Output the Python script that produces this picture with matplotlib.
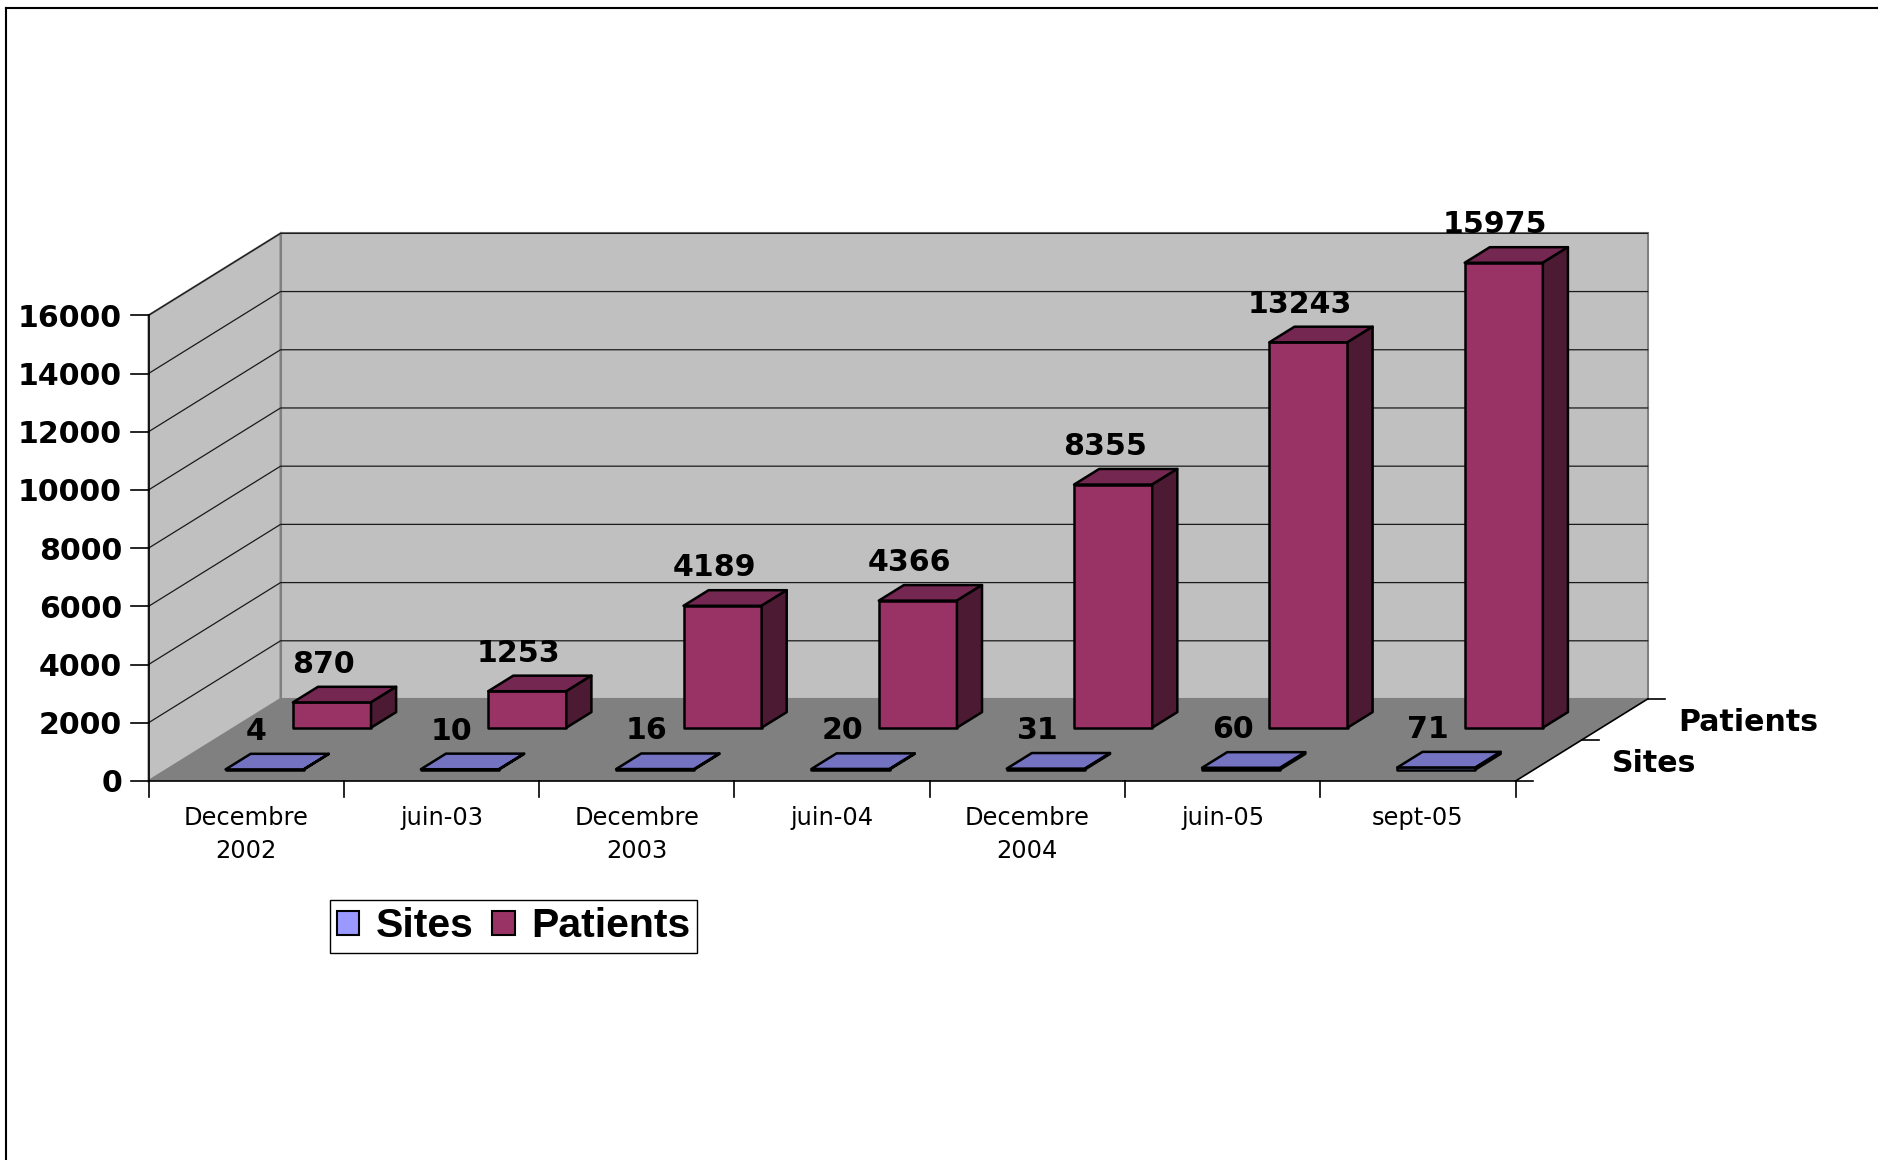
import matplotlib
matplotlib.use("Agg")
import matplotlib.pyplot as plt
from matplotlib.patches import Polygon, Patch
from matplotlib.lines import Line2D

# data
categories = ["Decembre\n2002", "juin-03", "Decembre\n2003", "juin-04",
              "Decembre\n2004", "juin-05", "sept-05"]
series_names = ["Sites", "Patients"]
sites = [4, 10, 16, 20, 31, 60, 71]
patients = [870, 1253, 4189, 4366, 8355, 13243, 15975]
yticks = list(range(0, 16001, 2000))

# colours (front, top, side)
sites_cols = ("#9999FF", "#7373C2", "#4D4D80")
patients_cols = ("#993366", "#742750", "#4D1A33")
wall_col = "#C0C0C0"
floor_col = "#808080"

# oblique projection: depth 0..1 shifts by DX categories and DY value units
DX = 0.676
DY = 2817
YMAX = 16000
N = len(categories)
BAR_W = 0.4
BAR_D = 0.19

fig = plt.figure(figsize=(18.78, 11.60), dpi=100)
ax = fig.add_axes([0, 0, 1, 1])
ax.set_xlim(-0.7604, 8.8556)
ax.set_ylim(-13023, 26835)
ax.axis("off")

bold = dict(family="DejaVu Sans", fontweight="bold", fontsize=21.6)


def P(x, v, d):
    return (x + d * DX, v + d * DY)


# walls and floor
ax.add_patch(Polygon([P(0, 0, 1), P(N, 0, 1), P(N, YMAX, 1), P(0, YMAX, 1)],
                     closed=True, fc=wall_col, ec="#808080", lw=1.5, zorder=1))
ax.add_patch(Polygon([P(0, 0, 0), P(0, 0, 1), P(0, YMAX, 1), P(0, YMAX, 0)],
                     closed=True, fc=wall_col, ec="#808080", lw=1.5, zorder=1))
ax.add_patch(Polygon([P(0, 0, 0), P(N, 0, 0), P(N, 0, 1), P(0, 0, 1)],
                     closed=True, fc=floor_col, ec="none", zorder=1))

# gridlines on side and back walls
for v in yticks[1:]:
    a, b, c = P(0, v, 0), P(0, v, 1), P(N, v, 1)
    ax.plot([a[0], b[0], c[0]], [a[1], b[1], c[1]], color="#1a1a1a", lw=0.9, zorder=2)

# value axis
ax.plot([0, 0], [0, YMAX], color="black", lw=1.2, zorder=3)
for v in yticks:
    ax.plot([-0.092, 0], [v, v], color="black", lw=1.2, zorder=3)
    ax.text(-0.136, v, str(v), ha="right", va="center_baseline", **bold)

# category axis
ax.plot([0, N], [0, 0], color="black", lw=1.2, zorder=3)
for i in range(N + 1):
    ax.plot([i, i], [0, -550], color="black", lw=1.2, zorder=3)
for i, lab in enumerate(categories):
    ax.text(i + 0.5, -860, lab, ha="center", va="top", family="DejaVu Sans",
            fontsize=17.4, linespacing=1.45)

# depth (series) axis
a, b = P(N, 0, 0), P(N, 0, 1)
ax.plot([a[0], b[0]], [a[1], b[1]], color="black", lw=1.2, zorder=3)
for d in (0, 0.5, 1):
    p = P(N, 0, d)
    ax.plot([p[0], p[0] + 0.087], [p[1], p[1]], color="black", lw=1.2, zorder=3)
for k, name in enumerate(series_names):
    p = P(N, 0, 0.25 + 0.5 * k)
    ax.text(p[0] + 0.325, p[1], name, ha="left", va="center_baseline", **bold)


def bar3d(i, h, front, cols):
    back = front + BAR_D
    x0 = i + 0.5 - BAR_W / 2
    x1 = i + 0.5 + BAR_W / 2
    kw = dict(closed=True, ec="black", lw=1.8, joinstyle="round", zorder=4)
    ax.add_patch(Polygon([P(x0, 0, front), P(x1, 0, front), P(x1, h, front),
                          P(x0, h, front)], fc=cols[0], **kw))
    ax.add_patch(Polygon([P(x0, h, front), P(x1, h, front), P(x1, h, back),
                          P(x0, h, back)], fc=cols[1], **kw))
    ax.add_patch(Polygon([P(x1, 0, front), P(x1, 0, back), P(x1, h, back),
                          P(x1, h, front)], fc=cols[2], **kw))
    lx, _ = P(i + 0.5 - 0.043, 0, front)
    _, ly = P(0, h, back)
    ax.text(lx, ly + 480, str(h), ha="center", va="baseline", zorder=5, **bold)


# back row first, then front row
for i, h in enumerate(patients):
    bar3d(i, h, 0.65, patients_cols)
for i, h in enumerate(sites):
    bar3d(i, h, 0.14, sites_cols)

# legend
handles = [Patch(fc=sites_cols[0], ec="black", lw=1.5, label="Sites"),
           Patch(fc=patients_cols[0], ec="black", lw=1.5, label="Patients")]
leg = fig.legend(handles=handles, loc="upper left",
                 bbox_to_anchor=(329.5 / 1878, 1 - 900 / 1160), ncol=2,
                 prop=dict(family="Liberation Sans", weight="bold", size=29.5),
                 fancybox=False, edgecolor="black", framealpha=1,
                 handlelength=0.55, handleheight=0.55, handletextpad=0.4,
                 columnspacing=0.45, borderpad=0.18, borderaxespad=0)
leg.get_frame().set_linewidth(1.0)

# chart area border (left and top only visible)
fig.add_artist(Line2D([6 / 1878, 6 / 1878], [0, 1 - 8 / 1160], color="black", lw=1.5))
fig.add_artist(Line2D([6 / 1878, 1], [1 - 8 / 1160, 1 - 8 / 1160], color="black", lw=1.5))

fig.savefig("out.png", dpi=100)
